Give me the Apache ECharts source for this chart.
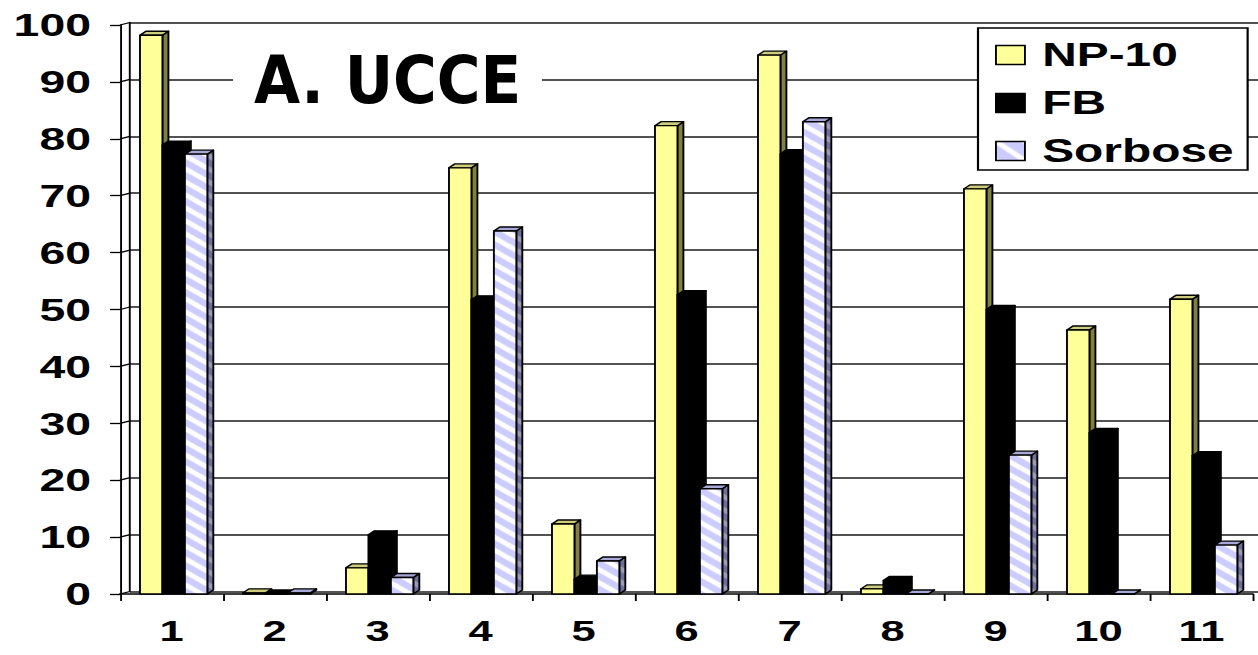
<!DOCTYPE html>
<html>
<head>
<meta charset="utf-8">
<title>A. UCCE</title>
<style>
  html, body { margin: 0; padding: 0; background: #ffffff; overflow: hidden; }
  #chart { transform-origin: 0 0; }
</style>
<script src="https://cdn.jsdelivr.net/npm/echarts@6/dist/echarts.min.js"></script>
</head>
<body>
<div id="chart"></div>
<script>
// ---- data ----
const categories = ['1', '2', '3', '4', '5', '6', '7', '8', '9', '10', '11'];
const np10    = [98.2, 0.2, 4.6, 74.9, 12.3, 82.3, 94.7, 0.9, 71.2, 46.4, 51.8];
const fb      = [78.9, 0.0, 10.4, 51.7, 2.6, 52.6, 77.4, 2.4, 50.0, 28.4, 24.3];
const sorbose = [77.3, 0.2, 2.9, 63.8, 5.8, 18.5, 83.0, 0.0, 24.4, 0.0, 8.6];
const yTicks  = [0, 10, 20, 30, 40, 50, 60, 70, 80, 90, 100];
const seriesNames = ['NP-10', 'FB', 'Sorbose'];

// ---- page geometry: the drawing is laid out narrow and stretched sideways ----
const S = 1.45;
const PAGE_W = 1258, PAGE_H = 655;
const X = v => v / S;                    // page px along x -> layout px
const el = document.getElementById('chart');
el.style.width = (PAGE_W / S) + 'px';
el.style.height = PAGE_H + 'px';
el.style.transform = 'scaleX(' + S + ')';

const FONT = "'Liberation Sans', Arial, sans-serif";

// downward diagonal stripes
function stripeTile(bg, fg, w, h, lw) {
  const c = document.createElement('canvas');
  c.width = w; c.height = h;
  const g = c.getContext('2d');
  g.fillStyle = bg;
  g.fillRect(0, 0, w, h);
  g.strokeStyle = fg;
  g.lineWidth = lw;
  for (let kx = -1; kx <= 1; kx++) {
    for (let ky = -1; ky <= 1; ky++) {
      g.beginPath();
      g.moveTo(kx * w, ky * h);
      g.lineTo(kx * w + w, ky * h + h);
      g.stroke();
    }
  }
  return { image: c, repeat: 'repeat', imageWidth: w, imageHeight: h };
}
const stripeFront = stripeTile('#CCCCFF', '#FFFFFF', 16, 13, 4.4);
const stripeSide  = stripeTile('#6E6E9A', '#9C9CB8', 16, 13, 4.4);
const stripeIcon  = stripeTile('#CCCCFF', '#FFFFFF', 20, 19, 4.4);

// face colours per series: front, top, side
const faces = [
  { front: '#FFFF99', top: '#CDCD7C', side: '#808040' },
  { front: '#000000', top: '#000000', side: '#000000' },
  { front: stripeFront, top: '#A8A8D8', side: stripeSide }
];

// bar layout as fractions of one category band
const GAP_FRAC = 0.194;    // space before the first bar
const BAR_FRAC = 0.218;    // width of one front face
const DEPTH_X  = 0.058;    // receding depth, x
const DEPTH_Y  = 4;        // receding depth, y (px)

function barRenderer(k) {
  return function (params, api) {
    const i = api.value(0);
    const v = api.value(1);
    const base = api.coord([i, 0]);
    const top = api.coord([i, v]);
    const band = api.size([1, 0])[0];
    const w = band * BAR_FRAC;
    const dx = band * DEPTH_X;
    const dy = DEPTH_Y;
    const x0 = base[0] - band / 2 + band * GAP_FRAC + k * w;
    const y0 = top[1];
    const yb = base[1];
    const f = faces[k];
    const line = { stroke: '#000000', lineWidth: 1.3, lineJoin: 'round' };
    return {
      type: 'group',
      children: [
        {
          type: 'polygon',
          shape: { points: [[x0 + w, y0], [x0 + w + dx, y0 - dy], [x0 + w + dx, yb - dy], [x0 + w, yb]] },
          style: Object.assign({ fill: f.side }, line)
        },
        {
          type: 'polygon',
          shape: { points: [[x0, y0], [x0 + w, y0], [x0 + w + dx, y0 - dy], [x0 + dx, y0 - dy]] },
          style: Object.assign({ fill: f.top }, line)
        },
        {
          type: 'rect',
          shape: { x: x0, y: y0, width: w, height: Math.max(yb - y0, 0) },
          style: Object.assign({ fill: f.front }, line)
        }
      ]
    };
  };
}

// small receding strokes on the left wall, one per gridline
function wallRenderer(params, api) {
  const v = api.value(0);
  const p = api.coord([0, v]);
  const band = api.size([1, 0])[0];
  const left = p[0] - band / 2;
  return {
    type: 'line',
    shape: { x1: left, y1: p[1], x2: left + X(10), y2: p[1] - 2.5 },
    style: { stroke: '#000000', lineWidth: 1.3 }
  };
}

const valueSets = [np10, fb, sorbose];
const barSeries = valueSets.map((vals, k) => ({
  name: seriesNames[k],
  type: 'custom',
  xAxisIndex: 0,
  yAxisIndex: 0,
  renderItem: barRenderer(k),
  encode: { x: 0, y: 1 },
  itemStyle: { color: k === 2 ? '#CCCCFF' : faces[k].front },
  data: vals.map((v, i) => [i, v]),
  z: 3
}));

const chart = echarts.init(el, null, { renderer: 'svg' });

const option = {
  animation: false,
  backgroundColor: '#ffffff',
  grid: [
    { left: X(120), top: 25, width: X(1133), height: 569 },      // front plane
    { left: X(130), top: 22.5, width: X(1140), height: 569 }     // back wall
  ],
  xAxis: [
    {
      gridIndex: 0,
      type: 'category',
      data: categories,
      axisLine: { show: true, lineStyle: { color: '#000000', width: 1.5 } },
      axisTick: { show: true, length: 7, lineStyle: { color: '#000000', width: 1.3 } },
      axisLabel: {
        margin: 22,
        color: '#000000',
        fontFamily: FONT,
        fontWeight: 'bold',
        fontSize: 30
      },
      splitLine: { show: false }
    },
    { gridIndex: 1, type: 'value', min: 0, max: 1, show: false }
  ],
  yAxis: [
    {
      gridIndex: 0,
      type: 'value',
      min: yTicks[0],
      max: yTicks[yTicks.length - 1],
      interval: yTicks[1] - yTicks[0],
      axisLine: { show: true, lineStyle: { color: '#000000', width: 1.3 } },
      axisTick: { show: true, inside: false, length: X(10), lineStyle: { color: '#000000', width: 1.3 } },
      axisLabel: {
        margin: X(29),
        color: '#000000',
        fontFamily: FONT,
        fontWeight: 'bold',
        fontSize: 32
      },
      splitLine: { show: false }
    },
    {
      gridIndex: 1,
      type: 'value',
      min: yTicks[0],
      max: yTicks[yTicks.length - 1],
      interval: yTicks[1] - yTicks[0],
      axisLine: { show: true, lineStyle: { color: '#000000', width: 1.3 } },
      axisTick: { show: false },
      axisLabel: { show: false },
      splitLine: { show: true, lineStyle: { color: '#1a1a1a', width: 1.6 } }
    }
  ],
  legend: {
    orient: 'vertical',
    left: X(978),
    top: 28,
    padding: [9, X(14), 1, X(17)],
    itemWidth: X(29),
    itemHeight: 19,
    itemGap: 12,
    icon: 'rect',
    backgroundColor: '#ffffff',
    borderColor: '#000000',
    borderWidth: 1.5,
    borderRadius: 0,
    selectedMode: false,
    textStyle: {
      fontFamily: FONT,
      fontWeight: 'bold',
      fontSize: 33,
      lineHeight: 36,
      color: '#000000',
      padding: [0, 0, 0, X(10)]
    },
    data: [
      { name: 'NP-10', itemStyle: { color: '#FFFF99', borderColor: '#000000', borderWidth: 1.3 } },
      { name: 'FB', itemStyle: { color: '#000000', borderColor: '#000000', borderWidth: 1.3 } },
      { name: 'Sorbose', itemStyle: { color: stripeIcon, borderColor: '#000000', borderWidth: 1.3 } }
    ]
  },
  graphic: [
    {
      type: 'rect',
      z: 10,
      shape: { x: X(233), y: 48, width: X(309), height: 64 },
      style: { fill: '#ffffff' }
    },
    {
      type: 'text',
      z: 11,
      x: X(254),
      y: 80,
      scaleX: 0.623,
      style: {
        text: 'A. UCCE',
        font: "bold 66px 'DejaVu Sans', sans-serif",
        fill: '#000000',
        textAlign: 'left',
        textVerticalAlign: 'middle'
      }
    }
  ],
  series: [
    {
      name: 'wall',
      type: 'custom',
      xAxisIndex: 0,
      yAxisIndex: 0,
      renderItem: wallRenderer,
      encode: { y: 0 },
      data: yTicks.map(v => [v]),
      silent: true,
      z: 1
    }
  ].concat(barSeries)
};

chart.setOption(option);
</script>
</body>
</html>
